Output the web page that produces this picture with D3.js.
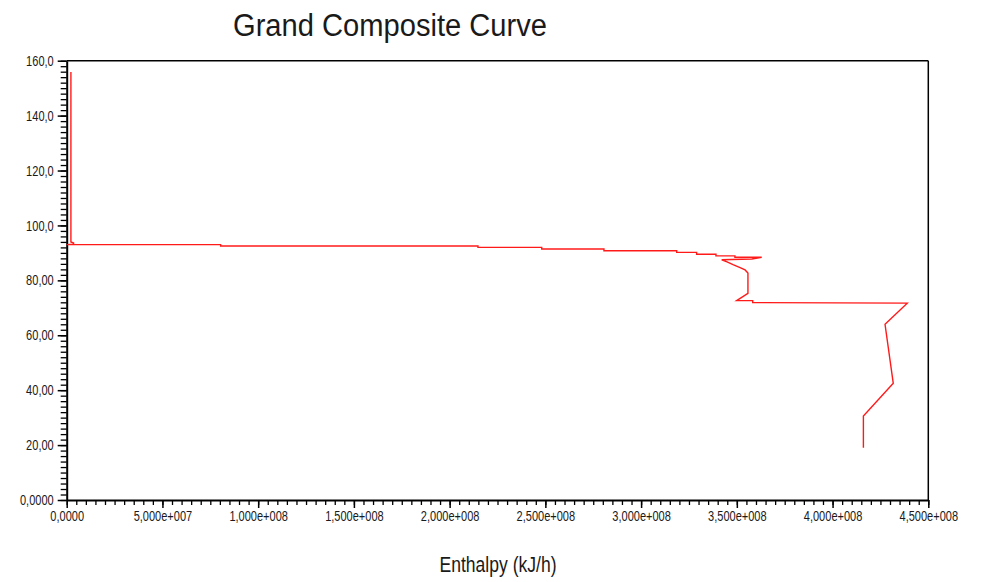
<!DOCTYPE html>
<html>
<head>
<meta charset="utf-8">
<script src="https://cdn.jsdelivr.net/npm/d3@7"></script>
<style>
  html, body { margin: 0; padding: 0; background: #fff; }
  svg { display: block; }
  text { font-family: "Liberation Sans", Arial, Helvetica, sans-serif; fill: #1a1a1a; }
</style>
</head>
<body>
<svg id="chart" width="984" height="582"></svg>
<script>
// Grand composite curve: shifted temperature (°C) against net enthalpy flow (kJ/h)
const enthalpy = [
  2.2e6, 2.2e6, 3.6e6, 3.6e6, 0,
  8.04e7, 8.04e7, 2.148e8, 2.148e8, 2.481e8, 2.481e8, 2.806e8, 2.806e8,
  3.186e8, 3.186e8, 3.290e8, 3.290e8, 3.391e8, 3.391e8, 3.490e8, 3.490e8, 3.630e8,
  3.578e8, 3.421e8, 3.449e8, 3.480e8, 3.517e8, 3.543e8, 3.558e8, 3.558e8,
  3.499e8, 3.583e8, 3.583e8, 4.390e8, 4.274e8, 4.317e8, 4.161e8, 4.161e8
];
const temperature = [
  155.9, 94.0, 93.6, 93.2, 93.0,
  93.0, 92.5, 92.5, 92.0, 92.0, 91.4, 91.4, 90.8,
  90.8, 90.2, 90.2, 89.5, 89.5, 88.9, 88.9, 88.4, 88.4,
  87.8, 87.5, 86.7, 85.7, 84.6, 83.8, 82.7, 75.3,
  72.6, 72.6, 71.9, 71.7, 64.0, 42.5, 30.6, 19.0
];

const xTickValues = [0, 5e7, 1e8, 1.5e8, 2e8, 2.5e8, 3e8, 3.5e8, 4e8, 4.5e8];
const xTickLabels = ["0,0000", "5,000e+007", "1,000e+008", "1,500e+008", "2,000e+008",
                     "2,500e+008", "3,000e+008", "3,500e+008", "4,000e+008", "4,500e+008"];
const yTickValues = [0, 20, 40, 60, 80, 100, 120, 140, 160];
const yTickLabels = ["0,0000", "20,00", "40,00", "60,00", "80,00", "100,0", "120,0", "140,0", "160,0"];

const chartTitle = "Grand Composite Curve";
const xTitle = "Enthalpy (kJ/h)";

const svg = d3.select("#chart");
const plotLeft = 66.7, plotRight = 928.3, plotTop = 60.7, plotBottom = 500;

const x = d3.scaleLinear().domain([0, 4.5e8]).range([plotLeft, plotRight]);
const y = d3.scaleLinear().domain([0, 160]).range([plotBottom, plotTop]);

// squeeze text horizontally to the narrow face used by the chart
function narrow(sel, factor) {
  sel.each(function () {
    const len = this.getComputedTextLength();
    d3.select(this).attr("textLength", len * factor).attr("lengthAdjust", "spacingAndGlyphs");
  });
}

// minor ticks
svg.append("g")
  .attr("transform", `translate(0,${plotBottom})`)
  .call(d3.axisBottom(x).tickValues(d3.range(0, 4.5e8 + 1, 5e6)).tickSize(5).tickFormat(""))
  .call(g => g.select(".domain").remove())
  .call(g => g.selectAll("line").attr("stroke", "#000").attr("stroke-width", 1.3));
svg.append("g")
  .attr("transform", `translate(${plotLeft},0)`)
  .call(d3.axisLeft(y).tickValues(d3.range(0, 161, 2)).tickSize(6).tickFormat(""))
  .call(g => g.select(".domain").remove())
  .call(g => g.selectAll("line").attr("stroke", "#000").attr("stroke-width", 1.3));

// major axes
const xAxis = svg.append("g")
  .attr("transform", `translate(0,${plotBottom})`)
  .call(d3.axisBottom(x).tickValues(xTickValues).tickSize(8).tickSizeOuter(0)
        .tickFormat((d, i) => xTickLabels[i]));
xAxis.select(".domain").attr("stroke", "#000").attr("stroke-width", 2);
xAxis.selectAll("line").attr("stroke", "#000").attr("stroke-width", 1.5);
xAxis.selectAll("text").attr("font-size", 14.5).attr("fill", "#222")
  .attr("y", 11).attr("dy", "0.71em").call(narrow, 0.76);

const yAxis = svg.append("g")
  .attr("transform", `translate(${plotLeft},0)`)
  .call(d3.axisLeft(y).tickValues(yTickValues).tickSize(9).tickSizeOuter(0)
        .tickFormat((d, i) => yTickLabels[i]));
yAxis.select(".domain").attr("stroke", "#000").attr("stroke-width", 2);
yAxis.selectAll("line").attr("stroke", "#000").attr("stroke-width", 1.5);
yAxis.selectAll("text").attr("font-size", 14.5).attr("fill", "#222")
  .attr("x", -13).call(narrow, 0.76);

// frame top and right
svg.append("line").attr("x1", plotLeft).attr("x2", plotRight).attr("y1", plotTop).attr("y2", plotTop)
  .attr("stroke", "#000").attr("stroke-width", 1.5);
svg.append("line").attr("x1", plotRight).attr("x2", plotRight).attr("y1", plotTop).attr("y2", plotBottom)
  .attr("stroke", "#000").attr("stroke-width", 1.5);

// curve
const pts = enthalpy.map((h, i) => [h, temperature[i]]);
svg.append("path")
  .datum(pts)
  .attr("fill", "none")
  .attr("stroke", "#ff1a1a")
  .attr("stroke-width", 1.4)
  .attr("stroke-linejoin", "miter")
  .attr("d", d3.line().x(d => x(d[0])).y(d => y(d[1])));

// titles
svg.append("text")
  .attr("x", 390).attr("y", 36)
  .attr("text-anchor", "middle")
  .attr("font-size", 31)
  .attr("fill", "#111")
  .text(chartTitle)
  .attr("textLength", 314).attr("lengthAdjust", "spacingAndGlyphs");

svg.append("text")
  .attr("x", 498).attr("y", 572)
  .attr("text-anchor", "middle")
  .attr("font-size", 22)
  .attr("fill", "#111")
  .text(xTitle)
  .attr("textLength", 117).attr("lengthAdjust", "spacingAndGlyphs");
</script>
</body>
</html>
